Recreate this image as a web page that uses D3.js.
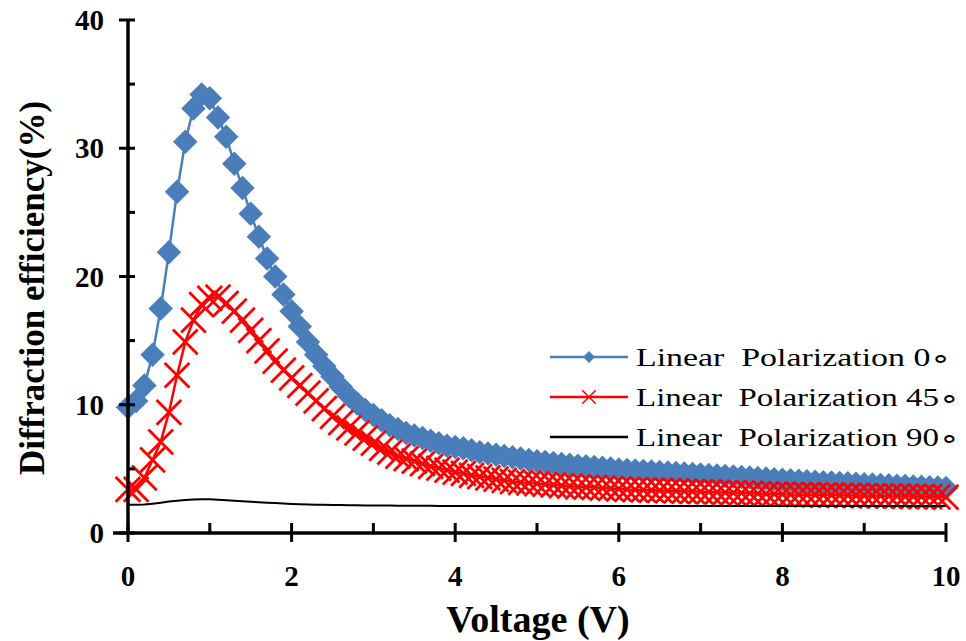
<!DOCTYPE html>
<html>
<head>
<meta charset="utf-8">
<script src="https://cdn.jsdelivr.net/npm/d3@7"></script>
</head>
<body style="margin:0;background:#fff">
<div id="chart"></div>
<script>
// voltage (V)
var voltage = [0.0,0.1,0.2,0.3,0.4,0.5,0.6,0.7,0.8,0.9,
  1.0,1.1,1.2,1.3,1.4,1.5,1.6,1.7,1.8,1.9,
  2.0,2.1,2.2,2.3,2.4,2.5,2.6,2.7,2.8,2.9,
  3.0,3.1,3.2,3.3,3.4,3.5,3.6,3.7,3.8,3.9,
  4.0,4.1,4.2,4.3,4.4,4.5,4.6,4.7,4.8,4.9,
  5.0,5.1,5.2,5.3,5.4,5.5,5.6,5.7,5.8,5.9,
  6.0,6.1,6.2,6.3,6.4,6.5,6.6,6.7,6.8,6.9,
  7.0,7.1,7.2,7.3,7.4,7.5,7.6,7.7,7.8,7.9,
  8.0,8.1,8.2,8.3,8.4,8.5,8.6,8.7,8.8,8.9,
  9.0,9.1,9.2,9.3,9.4,9.5,9.6,9.7,9.8,9.9,10.0];

// diffraction efficiency (%), linear polarization 0
var pol0 = [9.8,10.3,11.5,13.9,17.5,21.9,26.6,30.5,33.1,34.2,
  33.9,32.4,30.9,28.8,26.9,24.9,23.1,21.4,20.0,18.6,
  17.3,16.1,14.9,13.9,13.0,12.2,11.4,10.7,10.1,9.6,
  9.2,8.8,8.4,8.1,7.8,7.6,7.4,7.2,7.0,6.8,
  6.7,6.6,6.45,6.3,6.2,6.1,6.0,5.9,5.8,5.7,
  5.6,5.53,5.46,5.39,5.32,5.25,5.2,5.14,5.08,5.02,
  4.96,4.92,4.88,4.84,4.8,4.76,4.72,4.68,4.64,4.6,
  4.56,4.52,4.48,4.44,4.4,4.36,4.32,4.28,4.24,4.2,
  4.16,4.12,4.08,4.04,4.0,3.96,3.93,3.9,3.87,3.84,
  3.81,3.78,3.75,3.72,3.69,3.66,3.63,3.6,3.57,3.54,3.5];

// linear polarization 45
var pol45 = [3.4,3.4,4.3,5.7,7.1,9.4,12.3,14.9,16.6,17.8,
  18.3,18.4,17.9,17.3,16.6,15.8,15.0,14.2,13.4,12.7,
  12.1,11.5,10.9,10.3,9.7,9.1,8.6,8.2,7.8,7.4,
  7.0,6.6,6.3,6.0,5.8,5.6,5.4,5.2,5.05,4.9,
  4.75,4.65,4.5,4.4,4.3,4.2,4.1,4.0,3.95,3.9,
  3.85,3.8,3.75,3.7,3.65,3.6,3.58,3.55,3.5,3.47,
  3.44,3.4,3.38,3.36,3.34,3.32,3.3,3.28,3.26,3.24,
  3.22,3.2,3.18,3.16,3.14,3.12,3.1,3.08,3.06,3.04,
  3.02,3.0,2.99,2.98,2.97,2.96,2.95,2.94,2.93,2.92,
  2.91,2.9,2.89,2.88,2.87,2.86,2.85,2.84,2.83,2.82,2.8];

// linear polarization 90
var pol90 = [2.2,2.2,2.22,2.28,2.35,2.45,2.52,2.58,2.62,2.64,
  2.63,2.6,2.56,2.52,2.48,2.44,2.4,2.36,2.33,2.3,
  2.27,2.25,2.23,2.21,2.2,2.19,2.18,2.17,2.16,2.15,
  2.15,2.14,2.14,2.13,2.13,2.12,2.12,2.12,2.11,2.11,
  2.11,2.11,2.1,2.1,2.1,2.1,2.1,2.1,2.1,2.1,
  2.1,2.1,2.1,2.1,2.1,2.1,2.1,2.1,2.1,2.1,
  2.1,2.1,2.1,2.1,2.1,2.1,2.1,2.1,2.1,2.1,
  2.1,2.1,2.1,2.1,2.1,2.1,2.1,2.1,2.1,2.1,
  2.1,2.1,2.1,2.1,2.1,2.1,2.1,2.1,2.1,2.1,
  2.1,2.1,2.1,2.1,2.1,2.1,2.1,2.1,2.1,2.1,2.1];

var seriesNames = ["Linear  Polarization 0\u2218", "Linear  Polarization 45\u2218", "Linear  Polarization 90\u2218"];
var xTicks = [0, 2, 4, 6, 8, 10];
var xMinor = [1, 3, 5, 7, 9];
var yTicks = [0, 10, 20, 30, 40];
var yMinor = [5, 15, 25, 35];

var W = 966, H = 641;
var blue = "#4a7ebb", red = "#ff0000";
var fontName = "Liberation Serif";

var svg = d3.select("#chart").append("svg")
    .attr("width", W).attr("height", H);

var xScale = d3.scaleLinear().domain([0, 10]).range([128, 946]);
var yScale = d3.scaleLinear().domain([0, 40]).range([533, 20]);

function pts(vals) {
    return voltage.map(function(v, i) { return { x: v, y: vals[i] }; });
}

function serifText(sel) {
    sel.attr("font-family", fontName).style("font-family", "'Liberation Serif'");
}

var linePath = d3.line()
    .x(function(d) { return xScale(d.x); })
    .y(function(d) { return yScale(d.y); });

// series 0: diamonds
var d0 = pts(pol0);
svg.append("path").attr("d", linePath(d0))
    .attr("fill", "none").attr("stroke", blue).attr("stroke-width", 2.5);
var diamond = d3.symbol().type(d3.symbolSquare).size(300);
svg.append("g").selectAll("path").data(d0).enter().append("path")
    .attr("d", diamond)
    .attr("transform", function(d) { return "translate(" + xScale(d.x) + "," + yScale(d.y) + ") rotate(45)"; })
    .attr("fill", blue);

// series 45: crosses
var d45 = pts(pol45);
svg.append("path").attr("d", linePath(d45))
    .attr("fill", "none").attr("stroke", red).attr("stroke-width", 2.5);
var cross = d3.symbol().type(d3.symbolX).size(400);
svg.append("g").selectAll("path").data(d45).enter().append("path")
    .attr("d", cross)
    .attr("transform", function(d) { return "translate(" + xScale(d.x) + "," + yScale(d.y) + ")"; })
    .attr("fill", "none").attr("stroke", red).attr("stroke-width", 2.8);

// series 90: plain line
svg.append("path").attr("d", linePath(pts(pol90)))
    .attr("fill", "none").attr("stroke", "#000").attr("stroke-width", 2);

// axes
var axisG = svg.append("g").attr("stroke", "#000");
axisG.append("line")
    .attr("x1", xScale(0)).attr("x2", xScale(0))
    .attr("y1", yScale(40)).attr("y2", yScale(0))
    .attr("stroke-width", 3.5);
axisG.append("line")
    .attr("x1", xScale(0) - 15).attr("x2", xScale(10))
    .attr("y1", yScale(0)).attr("y2", yScale(0))
    .attr("stroke-width", 3.5);

axisG.selectAll(".ytick").data(yTicks).enter().append("line")
    .attr("x1", xScale(0) - 9).attr("x2", xScale(0) + 7)
    .attr("y1", function(d) { return yScale(d); }).attr("y2", function(d) { return yScale(d); })
    .attr("stroke-width", 3);
axisG.selectAll(".yminor").data(yMinor).enter().append("line")
    .attr("x1", xScale(0)).attr("x2", xScale(0) + 7)
    .attr("y1", function(d) { return yScale(d); }).attr("y2", function(d) { return yScale(d); })
    .attr("stroke-width", 3);
axisG.selectAll(".xtick").data(xTicks).enter().append("line")
    .attr("x1", function(d) { return xScale(d); }).attr("x2", function(d) { return xScale(d); })
    .attr("y1", yScale(0) - 10).attr("y2", yScale(0) + 9)
    .attr("stroke-width", 3);
axisG.selectAll(".xminor").data(xMinor).enter().append("line")
    .attr("x1", function(d) { return xScale(d); }).attr("x2", function(d) { return xScale(d); })
    .attr("y1", yScale(0) - 10).attr("y2", yScale(0))
    .attr("stroke-width", 3);

svg.selectAll(".ylab").data(yTicks).enter().append("text")
    .attr("x", 104).attr("y", function(d) { return yScale(d); })
    .attr("dy", "0.35em").attr("text-anchor", "end")
    .attr("font-size", 29).attr("font-weight", "bold")
    .call(serifText)
    .text(function(d) { return d; });
svg.selectAll(".xlab").data(xTicks).enter().append("text")
    .attr("x", function(d) { return xScale(d); }).attr("y", 576)
    .attr("dy", "0.35em").attr("text-anchor", "middle")
    .attr("font-size", 29).attr("font-weight", "bold")
    .call(serifText)
    .text(function(d) { return d; });

svg.append("text")
    .attr("x", 538).attr("y", 632)
    .attr("text-anchor", "middle")
    .attr("font-size", 38).attr("font-weight", "bold")
    .call(serifText)
    .text("Voltage (V)");
svg.append("text")
    .attr("transform", "translate(44,288) rotate(-90)")
    .attr("text-anchor", "middle")
    .attr("font-size", 35).attr("font-weight", "bold")
    .call(serifText)
    .text("Diffraction efficiency(%)");

// legend
var legend = svg.append("g");
var rows = [357, 397, 437];
var rowLen = [316, 324, 324];
rows.forEach(function(y, i) {
    var color = [blue, red, "#000"][i];
    legend.append("line")
        .attr("x1", 550).attr("x2", 628).attr("y1", y).attr("y2", y)
        .attr("stroke", color).attr("stroke-width", 2.5);
    if (i === 0) {
        legend.append("path")
            .attr("d", d3.symbol().type(d3.symbolSquare).size(70))
            .attr("transform", "translate(589," + y + ") rotate(45)")
            .attr("fill", blue);
    } else if (i === 1) {
        legend.append("path")
            .attr("d", d3.symbol().type(d3.symbolX).size(120))
            .attr("transform", "translate(589," + y + ")")
            .attr("fill", "none").attr("stroke", red).attr("stroke-width", 1.5);
    }
    legend.append("text")
        .attr("x", 636).attr("y", y).attr("dy", "0.35em")
        .attr("font-size", 25)
        .attr("textLength", rowLen[i]).attr("lengthAdjust", "spacingAndGlyphs")
        .call(serifText)
        .style("white-space", "pre")
        .text(seriesNames[i]);
});
</script>
</body>
</html>
